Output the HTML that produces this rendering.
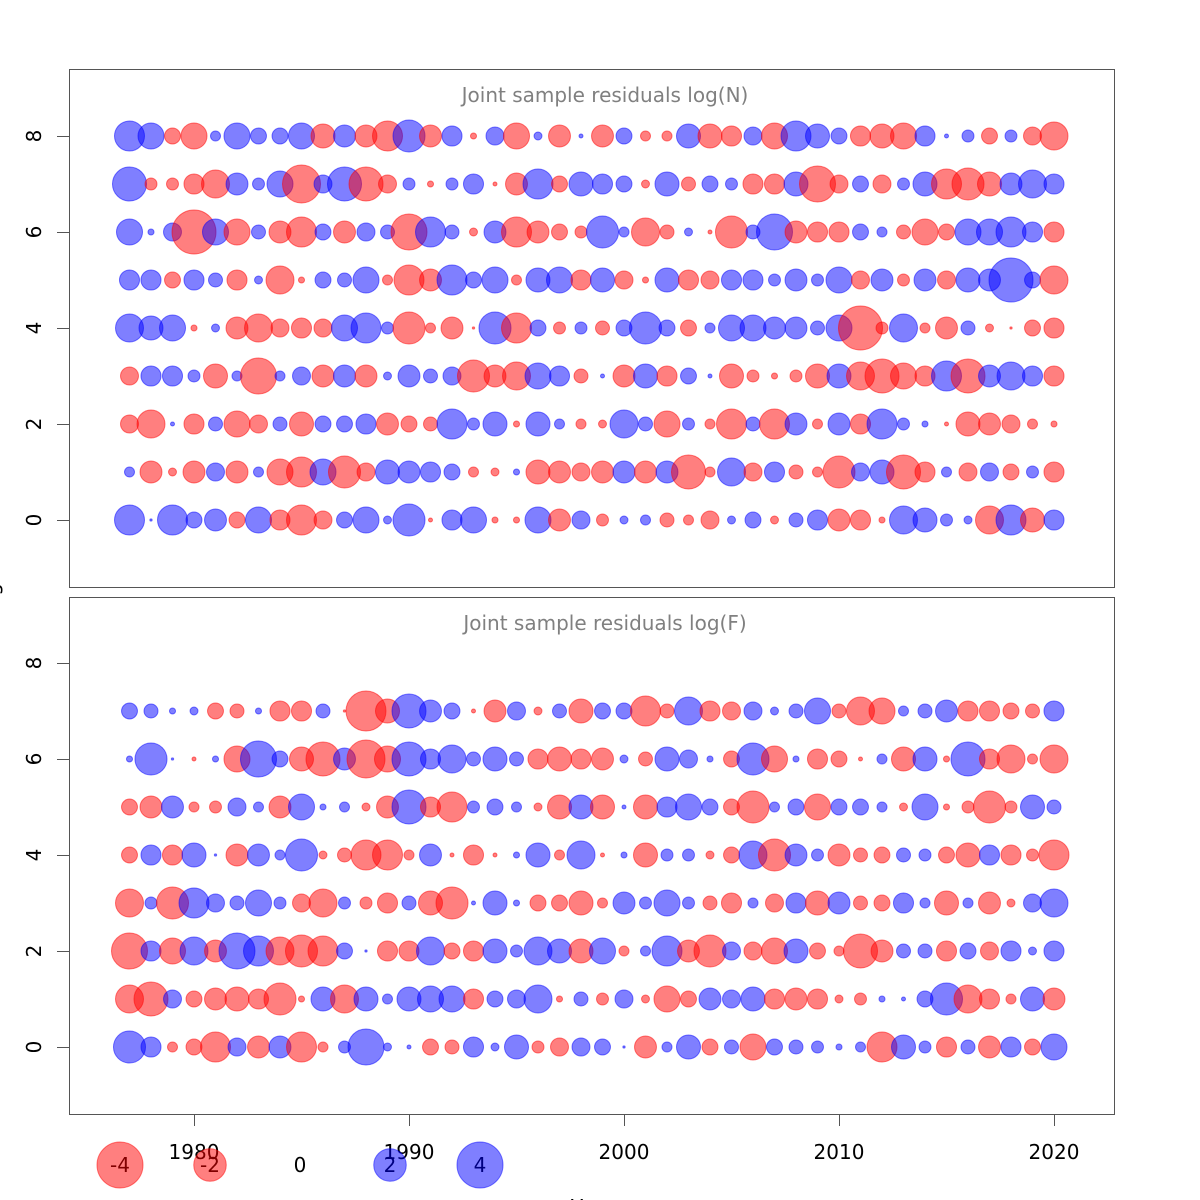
<!DOCTYPE html>
<html><head><meta charset="utf-8"><style>
html,body{margin:0;padding:0;background:#fff;}
svg{display:block;font-family:"DejaVu Sans","Liberation Sans",sans-serif;}
</style></head><body>
<svg id="chart" width="1200" height="1200" viewBox="0 0 1200 1200" xmlns="http://www.w3.org/2000/svg">
<rect x="0" y="0" width="1200" height="1200" fill="#fff"/>
<g id="panels"></g>
<g id="legend"></g>
</svg>
<script>
const years = [];
for (let y = 1977; y <= 2020; y++) years.push(y);
const xTicks = [1980, 1990, 2000, 2010, 2020];
const yTicks = [0, 2, 4, 6, 8];
const legendValues = [-4, -2, 0, 2, 4];
const titleN = "Joint sample residuals log(N)";
const titleF = "Joint sample residuals log(F)";

const resN0 = [1.7,.01,1.7,.48,.91,-.48,1.28,-.76,-1.7,-.61,.48,1.28,.12,1.94,-.03,.76,1.28,-.07,-.07,1.28,-.91,.61,-.27,.12,.19,-.37,-.19,-.61,.12,.48,-.12,.37,.76,-.91,-.76,-.07,1.48,1.09,.27,.12,-1.48,1.7,-1.09,.76];
const resN1 = [.19,-.91,-.12,-.91,.61,-.91,.19,-1.28,-1.7,1.28,-1.94,-.61,1.09,.91,.76,.48,-.19,-.12,.07,-1.09,-.91,-.61,-.91,.91,-.91,.91,-2.19,-.19,1.48,-.61,.76,-.37,-.19,-1.94,.61,1.09,-2.19,-.76,.19,-.61,.61,-.48,.27,-.76];
const resN2 = [-.61,-1.48,.03,-.76,.37,-1.28,-.61,.37,-1.09,.48,.48,.76,-.91,-.48,-.37,1.7,.27,1.09,-.07,1.09,.19,-.19,-.12,1.48,.37,-1.28,.27,-.19,-1.7,.37,-1.7,.91,-.19,.91,-.76,1.7,.27,.07,-.03,-1.09,-.91,-.61,-.19,-.07];
const resN3 = [-.61,.76,.76,.27,-1.09,.19,-2.45,.19,.61,-.91,.91,-.91,.12,.91,.37,.61,-1.94,-.91,-1.48,1.28,.76,-.37,.03,-.91,1.09,-.76,.48,.03,-1.09,-.27,-.07,-.27,-1.09,1.09,-1.48,-2.19,-1.28,-.76,1.7,-2.19,.91,1.48,.76,-.76];
const resN4 = [1.48,1.09,1.28,-.07,.12,-.91,-1.48,-.61,-.76,-.61,1.28,1.7,.27,-1.94,-.19,-.91,-.01,1.94,-1.7,.48,-.27,.27,-.37,.48,1.94,.48,-.48,.19,1.28,1.28,.91,.91,.37,1.28,-3.66,-.27,1.48,-.19,-.91,.37,-.12,-.01,-.48,-.76];
const resN5 = [.76,.76,-.48,.76,.37,-.76,.12,-1.48,-.07,.48,.37,1.28,-.19,-1.7,-.91,1.7,.48,1.28,-.19,1.09,1.28,-.76,1.09,-.61,-.07,1.09,-.76,-.61,.76,.76,.27,.91,.27,1.28,-.61,.91,-.27,.91,-.61,1.09,.91,3.66,.48,-1.48];
const resN6 = [1.28,.07,.61,-3.66,1.28,-1.28,.37,-.91,-1.7,.48,-.91,.61,.37,-2.45,1.7,.37,-.12,.91,-1.7,-.91,-.48,-.27,1.94,.19,-1.48,-.37,.12,-.03,-1.94,.37,2.45,-.91,-.76,-.76,.48,.19,-.37,-1.28,-.48,1.28,1.28,1.7,.76,-.76];
const resN7 = [2.19,-.27,-.27,-.76,-1.48,.91,.27,1.28,-2.73,.61,2.19,-2.19,-.61,.27,-.07,.27,.76,-.03,-.91,1.7,-.48,1.09,.76,.48,-.12,1.09,-.37,.48,.27,-.76,-.76,1.09,-2.45,-.61,.48,-.61,.27,1.09,-1.7,-1.94,-1.09,.91,1.48,.76];
const resN8 = [1.7,1.28,-.48,-1.28,.19,1.28,.48,.48,1.28,-1.09,.91,-.91,-1.7,1.94,-.91,.76,-.07,.61,-1.28,.12,-.91,.03,-.91,.48,-.19,-.19,1.09,-1.09,-.76,.61,-1.28,1.7,1.09,.48,-.76,-1.09,-1.28,.76,.03,.27,-.48,.27,-.61,-1.48];

const resF0 = [1.94,.76,-.19,-.48,-1.7,.61,-.91,.91,-1.7,-.19,.27,2.45,.12,.03,-.48,-.37,.76,.12,1.09,-.27,-.61,.61,.48,.01,-.91,.19,1.09,-.48,.37,-1.28,.48,.37,.27,.07,.19,-1.7,1.09,.27,-.76,.37,-.91,.76,-.48,1.28];
const resF1 = [-1.48,-2.19,.61,-.48,-.91,-1.09,-.76,-1.94,-.07,1.09,-1.48,1.09,.19,1.09,1.28,1.28,-.76,.48,.61,1.48,-.07,.37,-.27,.61,-.12,-1.28,-.48,.91,.61,1.09,-.76,-.91,-.76,-.12,-.27,.07,.03,.48,1.94,-1.48,-.76,-.19,1.09,-.91];
const resF2 = [-2.45,.76,-1.28,1.48,-.91,2.45,1.7,-1.48,-1.94,-1.7,.48,.01,-.76,-.76,1.48,-.48,-.76,1.09,.27,1.48,1.09,-1.09,1.28,-.19,.19,1.7,-.91,-1.94,.61,-.61,-1.28,1.09,-.48,-.19,-2.19,-.91,.37,.37,-.76,.48,-.61,.76,.12,.76];
const resF3 = [-1.48,.27,-1.94,1.7,.61,.37,1.28,.27,-.61,-1.48,.27,-.27,-.76,.37,-1.09,-1.94,.03,1.09,.07,-.48,-.48,-1.09,-.19,.91,.27,1.28,.27,-.37,-.76,.19,-.61,.76,-1.09,.91,-.37,-.48,.76,.19,-1.09,.19,-.91,-.12,.61,1.48];
const resF4 = [-.48,.76,-.76,1.09,.01,-.91,.91,.19,1.94,-.12,-.37,-1.7,-1.7,-.19,.91,-.03,-.76,-.03,.07,1.09,-.19,1.48,-.03,.07,-1.09,.27,.27,-.12,-.48,1.48,-1.94,.91,.27,-.91,-.37,-.48,.37,.27,-.48,-1.09,.76,-.76,-.27,-1.7];
const resF5 = [-.48,-.91,.91,-.19,-.27,.61,.19,-.91,1.28,.07,.19,-.12,-.91,2.19,-.76,-1.7,.27,.48,.19,-.12,-1.09,1.09,-1.09,.03,-1.09,.76,1.28,.48,-.48,-1.94,.19,.48,-1.28,.48,.48,.19,-.12,1.28,-.07,-.27,-1.94,-.27,1.09,.37];
const resF6 = [.07,1.94,.01,-.03,.07,-1.28,2.45,.48,-1.09,-2.19,.91,-2.73,-1.28,2.19,.76,1.48,.37,1.09,.37,-.76,-1.09,-.76,-.91,.12,-.37,1.09,.61,.07,-.48,1.94,-1.28,.07,-.76,-.48,-.03,.19,-1.09,1.09,-.07,2.19,-.76,-1.48,-.19,-1.48];
const resF7 = [.48,.37,.07,.12,-.48,-.37,.07,-.76,-.76,.37,-.01,-3.02,-1.09,2.19,.91,.48,-.03,-.91,.61,-.12,.37,-1.09,.48,.48,-1.7,-.37,1.48,-.76,-.61,.61,.12,.37,1.28,-.37,-1.48,-1.28,.19,.37,.91,-.76,-.76,-.48,-.37,.76];

const panelN = [resN0,resN1,resN2,resN3,resN4,resN5,resN6,resN7,resN8];
const panelF = [resF0,resF1,resF2,resF3,resF4,resF5,resF6,resF7];

const NS = "http://www.w3.org/2000/svg";
const X0 = 69, X1 = 1114;
const FS = 20;
const xScale = yr => 194 + (yr - 1980) * 21.5;
const rScale = v => 11.5 * Math.sqrt(Math.abs(v));
const RED = "rgba(255,0,0,0.5)", BLUE = "rgba(0,0,255,0.5)";

function mk(tag, attrs, parent) {
  const e = document.createElementNS(NS, tag);
  for (const k in attrs) e.setAttribute(k, attrs[k]);
  parent.appendChild(e);
  return e;
}

function drawPanel(rows, top, bottom, zeroY, title, key, showX) {
  const root = document.getElementById("panels");
  const g = mk("g", {}, root);
  
  
  const yScale = v => zeroY - 48 * v;
  const frame = mk("rect", {x: X0 + .5, y: top + .5, width: X1 - X0, height: bottom - top, fill: "none", stroke: "#555", "stroke-width": 1}, g);
  
  
  const t = mk("text", {x: 605, y: top + 33, "text-anchor": "middle", "font-size": FS, fill: "#808080"}, g);
  t.textContent = title;
  
  
  yTicks.forEach(v => {
    const y = yScale(v);
    const tk = mk("line", {x1: 57, x2: X0, y1: y + .5, y2: y + .5, stroke: "#555", "stroke-width": 1}, g);
    
    
    const lb = mk("text", {x: 34, y: y, "text-anchor": "middle", "dominant-baseline": "central", "font-size": FS, fill: "#000", transform: "rotate(-90 34 " + y + ")"}, g);
    lb.textContent = v;
    
    
  });
  rows.forEach((row, age) => {
    row.forEach((v, i) => {
      const c = mk("circle", {cx: xScale(years[i]), cy: yScale(age), r: rScale(v), fill: v < 0 ? RED : BLUE, stroke: v < 0 ? RED : BLUE, "stroke-width": 1}, g);
      
      
    });
  });
  if (showX) {
    xTicks.forEach(yr => {
      const x = xScale(yr);
      const tk = mk("line", {x1: x + .5, x2: x + .5, y1: bottom, y2: bottom + 12, stroke: "#555", "stroke-width": 1}, g);
      
      
      const lb = mk("text", {x: x, y: 1159, "text-anchor": "middle", "font-size": FS, fill: "#000"}, g);
      lb.textContent = yr;
      
      
    });
  }
}

drawPanel(panelN, 69, 587, 520, titleN, "logN", false);
drawPanel(panelF, 597, 1114, 1047, titleF, "logF", true);

const svg = document.getElementById("chart");
const xt = mk("text", {x: 592, y: 1214, "text-anchor": "middle", "font-size": FS, fill: "#000"}, svg);
xt.textContent = "Year";


const yt = mk("text", {x: -2, y: 590, "text-anchor": "middle", "font-size": FS, fill: "#000", transform: "rotate(-90 -2 590)"}, svg);
yt.textContent = "Age";



const lg = document.getElementById("legend");
legendValues.forEach((v, i) => {
  const x = 120 + i * 90;
  if (v !== 0) {
    const c = mk("circle", {cx: x, cy: 1165, r: rScale(v), fill: v < 0 ? RED : BLUE, stroke: v < 0 ? RED : BLUE, "stroke-width": 1}, lg);
    
    
  }
  const t = mk("text", {x: x, y: 1172, "text-anchor": "middle", "font-size": FS, fill: v < 0 ? "#800000" : (v > 0 ? "#000080" : "#000")}, lg);
  t.textContent = v;
  
  
});
</script>
</body></html>
